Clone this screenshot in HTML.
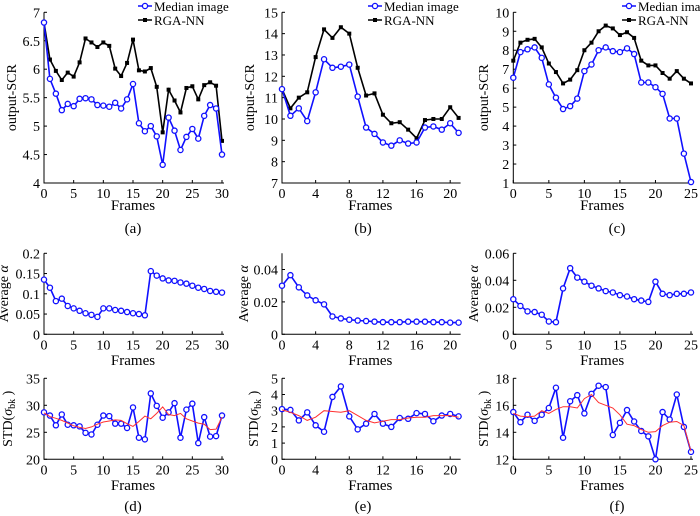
<!DOCTYPE html>
<html><head><meta charset="utf-8"><style>
html,body{margin:0;padding:0;background:#fff;width:700px;height:516px;overflow:hidden}
svg{display:block;font-family:"Liberation Serif",serif}
</style></head><body>
<svg id="fig" width="700" height="516" viewBox="0 0 700 516"></svg>
<script>
// ---- data ----
const scrA_rga=[6.82,6.17,5.97,5.81,5.94,5.87,6.12,6.54,6.47,6.39,6.47,6.41,6.01,5.88,6.11,6.52,5.98,5.96,6.02,5.69,4.89,5.64,5.45,5.24,5.67,5.70,5.47,5.72,5.77,5.71,4.74];
const scrA_med=[6.82,5.83,5.57,5.28,5.39,5.35,5.48,5.49,5.47,5.37,5.36,5.34,5.41,5.31,5.47,5.74,5.05,4.91,5.00,4.82,4.32,5.15,4.92,4.58,4.81,4.95,4.78,5.18,5.37,5.31,4.50];
const scrB_rga=[11.4,10.5,11.0,11.25,12.9,14.2,13.8,14.3,14.0,12.4,11.1,11.2,10.2,9.8,9.85,9.5,9.1,9.95,10.0,10.0,10.55,10.05];
const scrB_med=[11.4,10.15,10.5,9.9,11.25,12.8,12.4,12.45,12.55,11.05,9.6,9.3,8.9,8.75,9.0,8.85,8.9,9.6,9.65,9.5,9.8,9.35];
const scrC_rga=[7.45,8.4,8.55,8.6,8.15,7.3,6.85,6.25,6.45,6.95,8.0,8.4,9.0,9.3,9.15,8.8,8.95,8.65,7.45,7.2,7.2,6.8,6.5,6.9,6.5,6.25];
const scrC_med=[6.55,7.9,8.05,8.15,7.6,6.2,5.5,4.9,5.05,5.45,6.9,7.25,8.0,8.15,7.95,7.9,8.1,7.8,6.3,6.3,6.05,5.7,4.4,4.4,2.55,1.05];
const alphaA=[0.135,0.115,0.082,0.088,0.07,0.064,0.058,0.052,0.048,0.043,0.064,0.064,0.06,0.058,0.055,0.052,0.05,0.047,0.156,0.145,0.138,0.133,0.132,0.128,0.125,0.12,0.115,0.112,0.107,0.105,0.103];
const alphaB=[0.030,0.0365,0.029,0.024,0.021,0.0185,0.011,0.0098,0.009,0.0085,0.0082,0.0078,0.0075,0.0075,0.0075,0.0078,0.0078,0.0078,0.0075,0.0075,0.0072,0.0072];
const alphaC=[0.026,0.021,0.017,0.0165,0.0145,0.0095,0.009,0.034,0.049,0.042,0.039,0.036,0.034,0.032,0.031,0.029,0.028,0.026,0.025,0.024,0.039,0.030,0.029,0.030,0.030,0.031];
const stdA=[28.7,28.1,26.3,28.3,26.4,26.3,26.1,24.9,24.6,26.4,28.1,28.0,26.6,26.6,25.8,29.6,24.0,23.7,32.2,29.9,27.7,28.7,30.4,24.0,29.2,30.3,23.0,27.8,24.2,24.3,28.1];
const stdA_fit=[28.6,27.9,27.6,27.2,26.7,26.2,25.9,25.7,26.0,26.5,26.9,27.1,27.3,27.2,26.6,26.1,27.0,28.0,27.5,28.5,29.7,28.3,28.1,28.5,27.5,27.1,26.7,26.5,25.5,25.6,27.8];
const stdB=[3.1,3.05,2.4,2.9,2.1,1.7,3.85,4.5,2.65,1.85,2.2,2.8,2.2,2.0,2.55,2.5,2.85,2.8,2.35,2.7,2.8,2.65];
const stdB_fit=[3.05,2.9,2.7,2.4,2.6,3.0,2.95,2.9,3.0,2.7,2.4,2.25,2.35,2.45,2.45,2.55,2.6,2.6,2.7,2.7,2.7,2.6];
const stdC=[15.5,14.75,15.3,14.85,15.3,15.8,17.3,13.6,16.3,16.75,15.4,16.85,17.45,17.35,13.8,14.7,15.65,14.8,14.1,13.7,12.0,15.5,14.95,16.8,14.4,12.55];
const stdC_fit=[15.4,15.2,15.15,15.2,15.6,15.4,15.7,15.9,15.9,15.8,16.5,16.8,16.2,16.0,15.8,15.3,14.6,14.5,14.2,14.0,14.05,14.5,14.75,14.8,14.5,12.6];
const xTicksA=[0,5,10,15,20,25,30];
const xTicksB=[0,4,8,12,16,20];
const xTicksC=[0,5,10,15,20,25];
const yTicksScrA=["4","4.5","5","5.5","6","6.5","7"];
const yTicksScrB=["7","8","9","10","11","12","13","14","15"];
const yTicksScrC=["1","2","3","4","5","6","7","8","9","10"];
const yTicksAlphaA=["0","0.05","0.1","0.15","0.2"];
const yTicksAlphaB=["0","0.02","0.04"];
const yTicksAlphaC=["0","0.02","0.04","0.06"];
const yTicksStdA=["20","25","30","35"];
const yTicksStdB=["0","1","2","3","4","5"];
const yTicksStdC=["12","14","16","18"];
const panelLetters=["(a)","(b)","(c)","(d)","(e)","(f)"];
</script>
<script>
const NS="http://www.w3.org/2000/svg";
const svg=document.getElementById('fig');
function mk(tag,attrs,parent){const e=document.createElementNS(NS,tag);for(const k in attrs)e.setAttribute(k,attrs[k]);(parent||svg).appendChild(e);return e;}
function txt(x,y,s,size,anchor,parent,rot){const t=mk('text',{x:x,y:y,'font-size':size,'text-anchor':anchor||'middle',fill:'#000'},parent);if(rot)t.setAttribute('transform','rotate(-90 '+x+' '+y+')');t.textContent=s;return t;}

function panel(name,geo,xmax,ymin,ymax,xTicks,yTicks,series,ylabel,ylabelX,frames){
  const g=mk('g',{});
  
  
  const sx=v=>geo.x0+(v/xmax)*(geo.x1-geo.x0);
  const sy=v=>geo.y1-(v-ymin)/(ymax-ymin)*(geo.y1-geo.y0);
  const ax=mk('path',{d:`M${geo.x0},${geo.y0}V${geo.y1}H${geo.x1+2}`,stroke:'#000','stroke-width':1,fill:'none'},g);
  
  
  xTicks.forEach(v=>{const x=sx(v);mk('line',{x1:x,x2:x,y1:geo.y1,y2:geo.y1-3,stroke:'#000'},g);
    const t=txt(x,geo.y1+15,String(v),14,'middle',g);
    
    });
  yTicks.forEach(s=>{const y=sy(parseFloat(s));mk('line',{x1:geo.x0,x2:geo.x0+3,y1:y,y2:y,stroke:'#000'},g);
    const t=txt(geo.x0-4,y+5,s,14,'end',g);
    
    });
  const yl=txt(ylabelX,(geo.y0+geo.y1)/2,'',14,'middle',g,true);
  
  
  if(ylabel==='alpha'){yl.textContent='Average ';const ts=mk('tspan',{'font-style':'italic'},yl);ts.textContent='α';}
  else if(ylabel==='std'){yl.textContent='STD(';const a=mk('tspan',{'font-style':'italic'},yl);a.textContent='σ';const b=mk('tspan',{'font-size':10,dy:3},yl);b.textContent='bk';const c=mk('tspan',{dy:-3},yl);c.textContent=' )';}
  else yl.textContent=ylabel;
  const fl=txt((geo.x0+geo.x1)/2,frames,'Frames',15,'middle',g);
  
  
  series.forEach(s=>{
    const pts=s.data.map((v,i)=>sx(i).toFixed(1)+','+sy(v).toFixed(1)).join(' ');
    const pl=mk('polyline',{points:pts,fill:'none',stroke:s.color,'stroke-width':s.w},g);
    
    
    s.data.forEach((v,i)=>{
      if(s.marker==='circle'){const c=mk('circle',{cx:sx(i),cy:sy(v),r:2.6,fill:'#fff',stroke:s.color,'stroke-width':1.3},g);
        
        }
      else if(s.marker==='square'){const r=mk('rect',{x:sx(i)-2,y:sy(v)-2,width:4,height:4,fill:'#000'},g);
        
        }
    });
  });
  return g;
}
function legend(x,name){
  const g=mk('g',{});
  
  
  mk('line',{x1:x,x2:x+14,y1:6,y2:6,stroke:'#1010ff','stroke-width':1.5},g);
  mk('circle',{cx:x+7,cy:6,r:2.6,fill:'#fff',stroke:'#1010ff','stroke-width':1.3},g);
  const t1=txt(x+16,11,'Median image',13,'start',g);
  
  
  mk('line',{x1:x,x2:x+14,y1:20,y2:20,stroke:'#000','stroke-width':1.5},g);
  mk('rect',{x:x+5,y:18,width:4,height:4,fill:'#000'},g);
  const t2=txt(x+16,25,'RGA-NN',13,'start',g);
  
  
}
const BLUE='#1010ff',RED='#ff3030';
const cols=[{x0:44,x1:222},{x0:282,x1:458.6},{x0:513.3,x1:691}];
const topG={y0:12.3,y1:183},midG={y0:253.3,y1:334.3},botG={y0:378.3,y1:459.3};
const g=(c,r)=>({x0:c.x0,x1:c.x1,y0:r.y0,y1:r.y1});

panel('scr-chart-a',g(cols[0],topG),30,4,7,xTicksA,yTicksScrA,[{data:scrA_rga,color:'#000',w:1.6,marker:'square',name:'rga-nn-line'},{data:scrA_med,color:BLUE,w:1.6,marker:'circle',name:'median-line'}],'output-SCR',16,210);
panel('scr-chart-b',g(cols[1],topG),21,7,15,xTicksB,yTicksScrB,[{data:scrB_rga,color:'#000',w:1.6,marker:'square',name:'rga-nn-line'},{data:scrB_med,color:BLUE,w:1.6,marker:'circle',name:'median-line'}],'output-SCR',254,210);
panel('scr-chart-c',g(cols[2],topG),25,1,10,xTicksC,yTicksScrC,[{data:scrC_rga,color:'#000',w:1.6,marker:'square',name:'rga-nn-line'},{data:scrC_med,color:BLUE,w:1.6,marker:'circle',name:'median-line'}],'output-SCR',488,210);
legend(138,'legend-a');legend(368,'legend-b');legend(622,'legend-c');

panel('alpha-chart-a',g(cols[0],midG),30,0,0.2,xTicksA,yTicksAlphaA,[{data:alphaA,color:BLUE,w:1.6,marker:'circle',name:'alpha-line'}],'alpha',8,365);
panel('alpha-chart-b',g(cols[1],midG),21,0,0.05,xTicksB,yTicksAlphaB,[{data:alphaB,color:BLUE,w:1.6,marker:'circle',name:'alpha-line'}],'alpha',248,365);
panel('alpha-chart-c',g(cols[2],midG),25,0,0.06,xTicksC,yTicksAlphaC,[{data:alphaC,color:BLUE,w:1.6,marker:'circle',name:'alpha-line'}],'alpha',478,365);

panel('std-chart-d',g(cols[0],botG),30,20,35,xTicksA,yTicksStdA,[{data:stdA,color:BLUE,w:1.6,marker:'circle',name:'std-line'},{data:stdA_fit,color:RED,w:1,marker:'none',name:'std-trend-line'}],'std',12,490);
panel('std-chart-e',g(cols[1],botG),21,0,5,xTicksB,yTicksStdB,[{data:stdB,color:BLUE,w:1.6,marker:'circle',name:'std-line'},{data:stdB_fit,color:RED,w:1,marker:'none',name:'std-trend-line'}],'std',258,490);
panel('std-chart-f',g(cols[2],botG),25,12,18,xTicksC,yTicksStdC,[{data:stdC,color:BLUE,w:1.6,marker:'circle',name:'std-line'},{data:stdC_fit,color:RED,w:1,marker:'none',name:'std-trend-line'}],'std',488,490);

const lx=[133,363,617],ly=[233,233,233,511,511,511];
panelLetters.forEach((s,i)=>{const t=txt(lx[i%3],ly[i],s,15,'middle');
  
  });
</script>
</body></html>
